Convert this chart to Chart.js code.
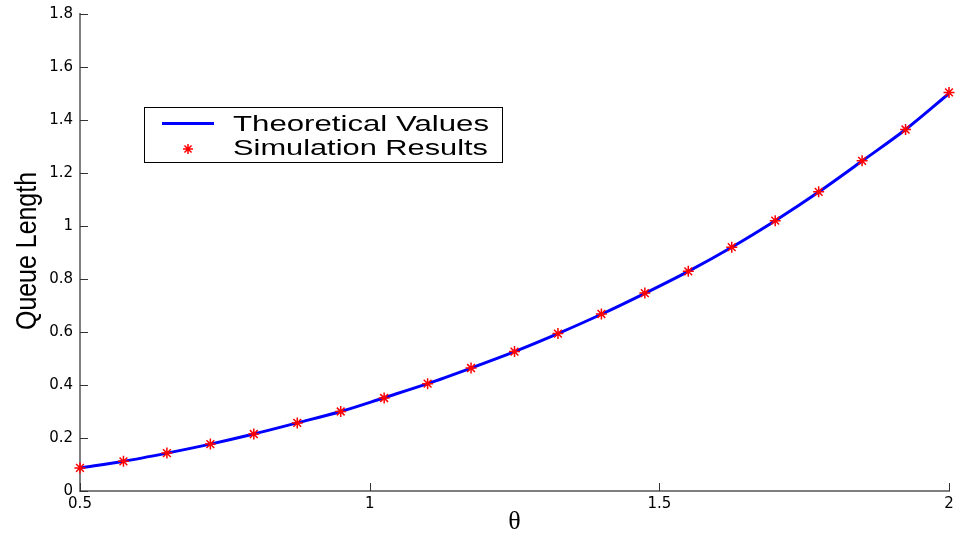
<!DOCTYPE html>
<html>
<head>
<meta charset="utf-8">
<title>Queue Length vs theta</title>
<script src="https://cdn.jsdelivr.net/npm/chart.js@4.4.0/dist/chart.umd.min.js"></script>
<style>
  html, body { margin: 0; padding: 0; background: #fff; }
  #chart { display: block; }
</style>
</head>
<body>
<canvas id="chart" width="956" height="540"></canvas>
<script>
// theta values (x) and the two series
const thetaValues = [0.5, 0.575, 0.65, 0.725, 0.8, 0.875, 0.95, 1.025, 1.1, 1.175, 1.25,
                     1.325, 1.4, 1.475, 1.55, 1.625, 1.7, 1.775, 1.85, 1.925, 2.0]
const theoreticalValues = [0.087, 0.112, 0.143, 0.177, 0.215, 0.257, 0.300, 0.352, 0.405, 0.464, 0.526,
                           0.594, 0.667, 0.746, 0.829, 0.920, 1.020, 1.128, 1.245, 1.364, 1.500]
const simulationValues = [0.087, 0.112, 0.143, 0.177, 0.215, 0.257, 0.300, 0.351, 0.405, 0.464, 0.526,
                          0.594, 0.668, 0.747, 0.829, 0.920, 1.020, 1.129, 1.246, 1.364, 1.504]
const xTicks = [0.5, 1, 1.5, 2]
const yTicks = [0, 0.2, 0.4, 0.6, 0.8, 1, 1.2, 1.4, 1.6, 1.8]
const seriesNames = ["Theoretical Values", "Simulation Results"]
const xTitle = "\u03B8"
const yTitle = "Queue Length"

function toPoints(ys) {
    return thetaValues.map((x, i) => ({ x: x, y: ys[i] }))
}

// draws ticks pointing into the plot, the legend box and the axis titles
const matlabLook = {
    id: 'matlabLook',
    afterDraw(chart) {
        const ctx = chart.ctx
        const area = chart.chartArea
        const xs = chart.scales.x
        const ys = chart.scales.y

        ctx.save()
        ctx.strokeStyle = '#333'
        ctx.lineWidth = 1
        ctx.beginPath()
        xTicks.forEach(v => {
            const px = Math.round(xs.getPixelForValue(v)) + 0.5
            ctx.moveTo(px, area.bottom)
            ctx.lineTo(px, area.bottom - 8)
        })
        yTicks.forEach(v => {
            const py = Math.round(ys.getPixelForValue(v)) + 0.5
            ctx.moveTo(area.left, py)
            ctx.lineTo(area.left + 8, py)
        })
        ctx.stroke()

        // legend
        ctx.fillStyle = '#fff'
        ctx.fillRect(144.5, 107.5, 358, 55)
        ctx.strokeStyle = '#000'
        ctx.lineWidth = 1
        ctx.strokeRect(144.5, 107.5, 358, 55)

        ctx.strokeStyle = '#0000ff'
        ctx.lineWidth = 3
        ctx.beginPath()
        ctx.moveTo(162, 123.5)
        ctx.lineTo(214, 123.5)
        ctx.stroke()

        ctx.strokeStyle = '#ff0000'
        ctx.lineWidth = 1.5
        const sx = 188, sy = 149, r = 5
        ctx.beginPath()
        ctx.moveTo(sx - r, sy); ctx.lineTo(sx + r, sy)
        ctx.moveTo(sx, sy - r); ctx.lineTo(sx, sy + r)
        const d = r * 0.7071
        ctx.moveTo(sx - d, sy - d); ctx.lineTo(sx + d, sy + d)
        ctx.moveTo(sx - d, sy + d); ctx.lineTo(sx + d, sy - d)
        ctx.stroke()

        ctx.fillStyle = '#000'
        ctx.font = '22px "Liberation Sans", Arial, sans-serif'
        ctx.textAlign = 'left'
        ctx.textBaseline = 'alphabetic'
        drawStretched(ctx, seriesNames[0], 233, 131, 256)
        drawStretched(ctx, seriesNames[1], 233, 155, 255)

        // y title, tall and condensed
        ctx.save()
        ctx.translate(36, 251)
        ctx.rotate(-Math.PI / 2)
        ctx.font = '29px "Liberation Sans", Arial, sans-serif'
        const w = ctx.measureText(yTitle).width
        ctx.scale(158 / w, 1)
        ctx.textAlign = 'center'
        ctx.fillText(yTitle, 0, 0)
        ctx.restore()

        // x title
        ctx.font = '26px "Liberation Serif", "Times New Roman", serif'
        ctx.textAlign = 'center'
        ctx.textBaseline = 'middle'
        ctx.fillText(xTitle, (area.left + area.right) / 2, 522)
        ctx.restore()
    }
}

function drawStretched(ctx, text, x, y, width) {
    const w = ctx.measureText(text).width
    ctx.save()
    ctx.translate(x, y)
    ctx.scale(width / w, 1)
    ctx.fillText(text, 0, 0)
    ctx.restore()
}

const tickFont = { family: '"DejaVu Sans", sans-serif', size: 15 }

new Chart(document.getElementById('chart'), {
    type: 'scatter',
    data: {
        datasets: [{
            label: seriesNames[1],
            data: toPoints(simulationValues),
            showLine: false,
            pointStyle: 'star',
            pointRadius: 5.5,
            pointBorderColor: '#ff0000',
            pointBackgroundColor: '#ff0000',
            pointBorderWidth: 1.5,
            clip: false,
            order: 0
        }, {
            label: seriesNames[0],
            data: toPoints(theoreticalValues),
            showLine: true,
            borderColor: '#0000ff',
            borderWidth: 3,
            pointRadius: 0,
            cubicInterpolationMode: 'monotone',
            order: 1
        }]
    },
    options: {
        responsive: false,
        animation: false,
        layout: { padding: { top: 14, right: -2, left: 0, bottom: 0 } },
        plugins: {
            legend: { display: false },
            tooltip: { enabled: false }
        },
        scales: {
            x: {
                type: 'linear',
                min: 0.5,
                max: 2,
                afterBuildTicks: s => { s.ticks = xTicks.map(v => ({ value: v })) },
                afterFit: s => { s.height = 49; s.paddingLeft = 0; s.paddingRight = 0 },
                grid: { display: false, drawTicks: false },
                border: { display: true, color: '#7f7f7f', width: 2 },
                ticks: {
                    color: '#000',
                    font: tickFont,
                    padding: 4,
                    maxRotation: 0,
                    callback: v => String(+Number(v).toFixed(1))
                }
            },
            y: {
                type: 'linear',
                min: 0,
                max: 1.8,
                afterBuildTicks: s => { s.ticks = yTicks.map(v => ({ value: v })) },
                afterFit: s => { s.width = 80; s.paddingTop = 0; s.paddingBottom = 0 },
                grid: { display: false, drawTicks: false },
                border: { display: true, color: '#7f7f7f', width: 2 },
                ticks: {
                    color: '#000',
                    font: tickFont,
                    padding: 7,
                    callback: v => String(+Number(v).toFixed(1))
                }
            }
        }
    },
    plugins: [matlabLook]
});
</script>
</body>
</html>
